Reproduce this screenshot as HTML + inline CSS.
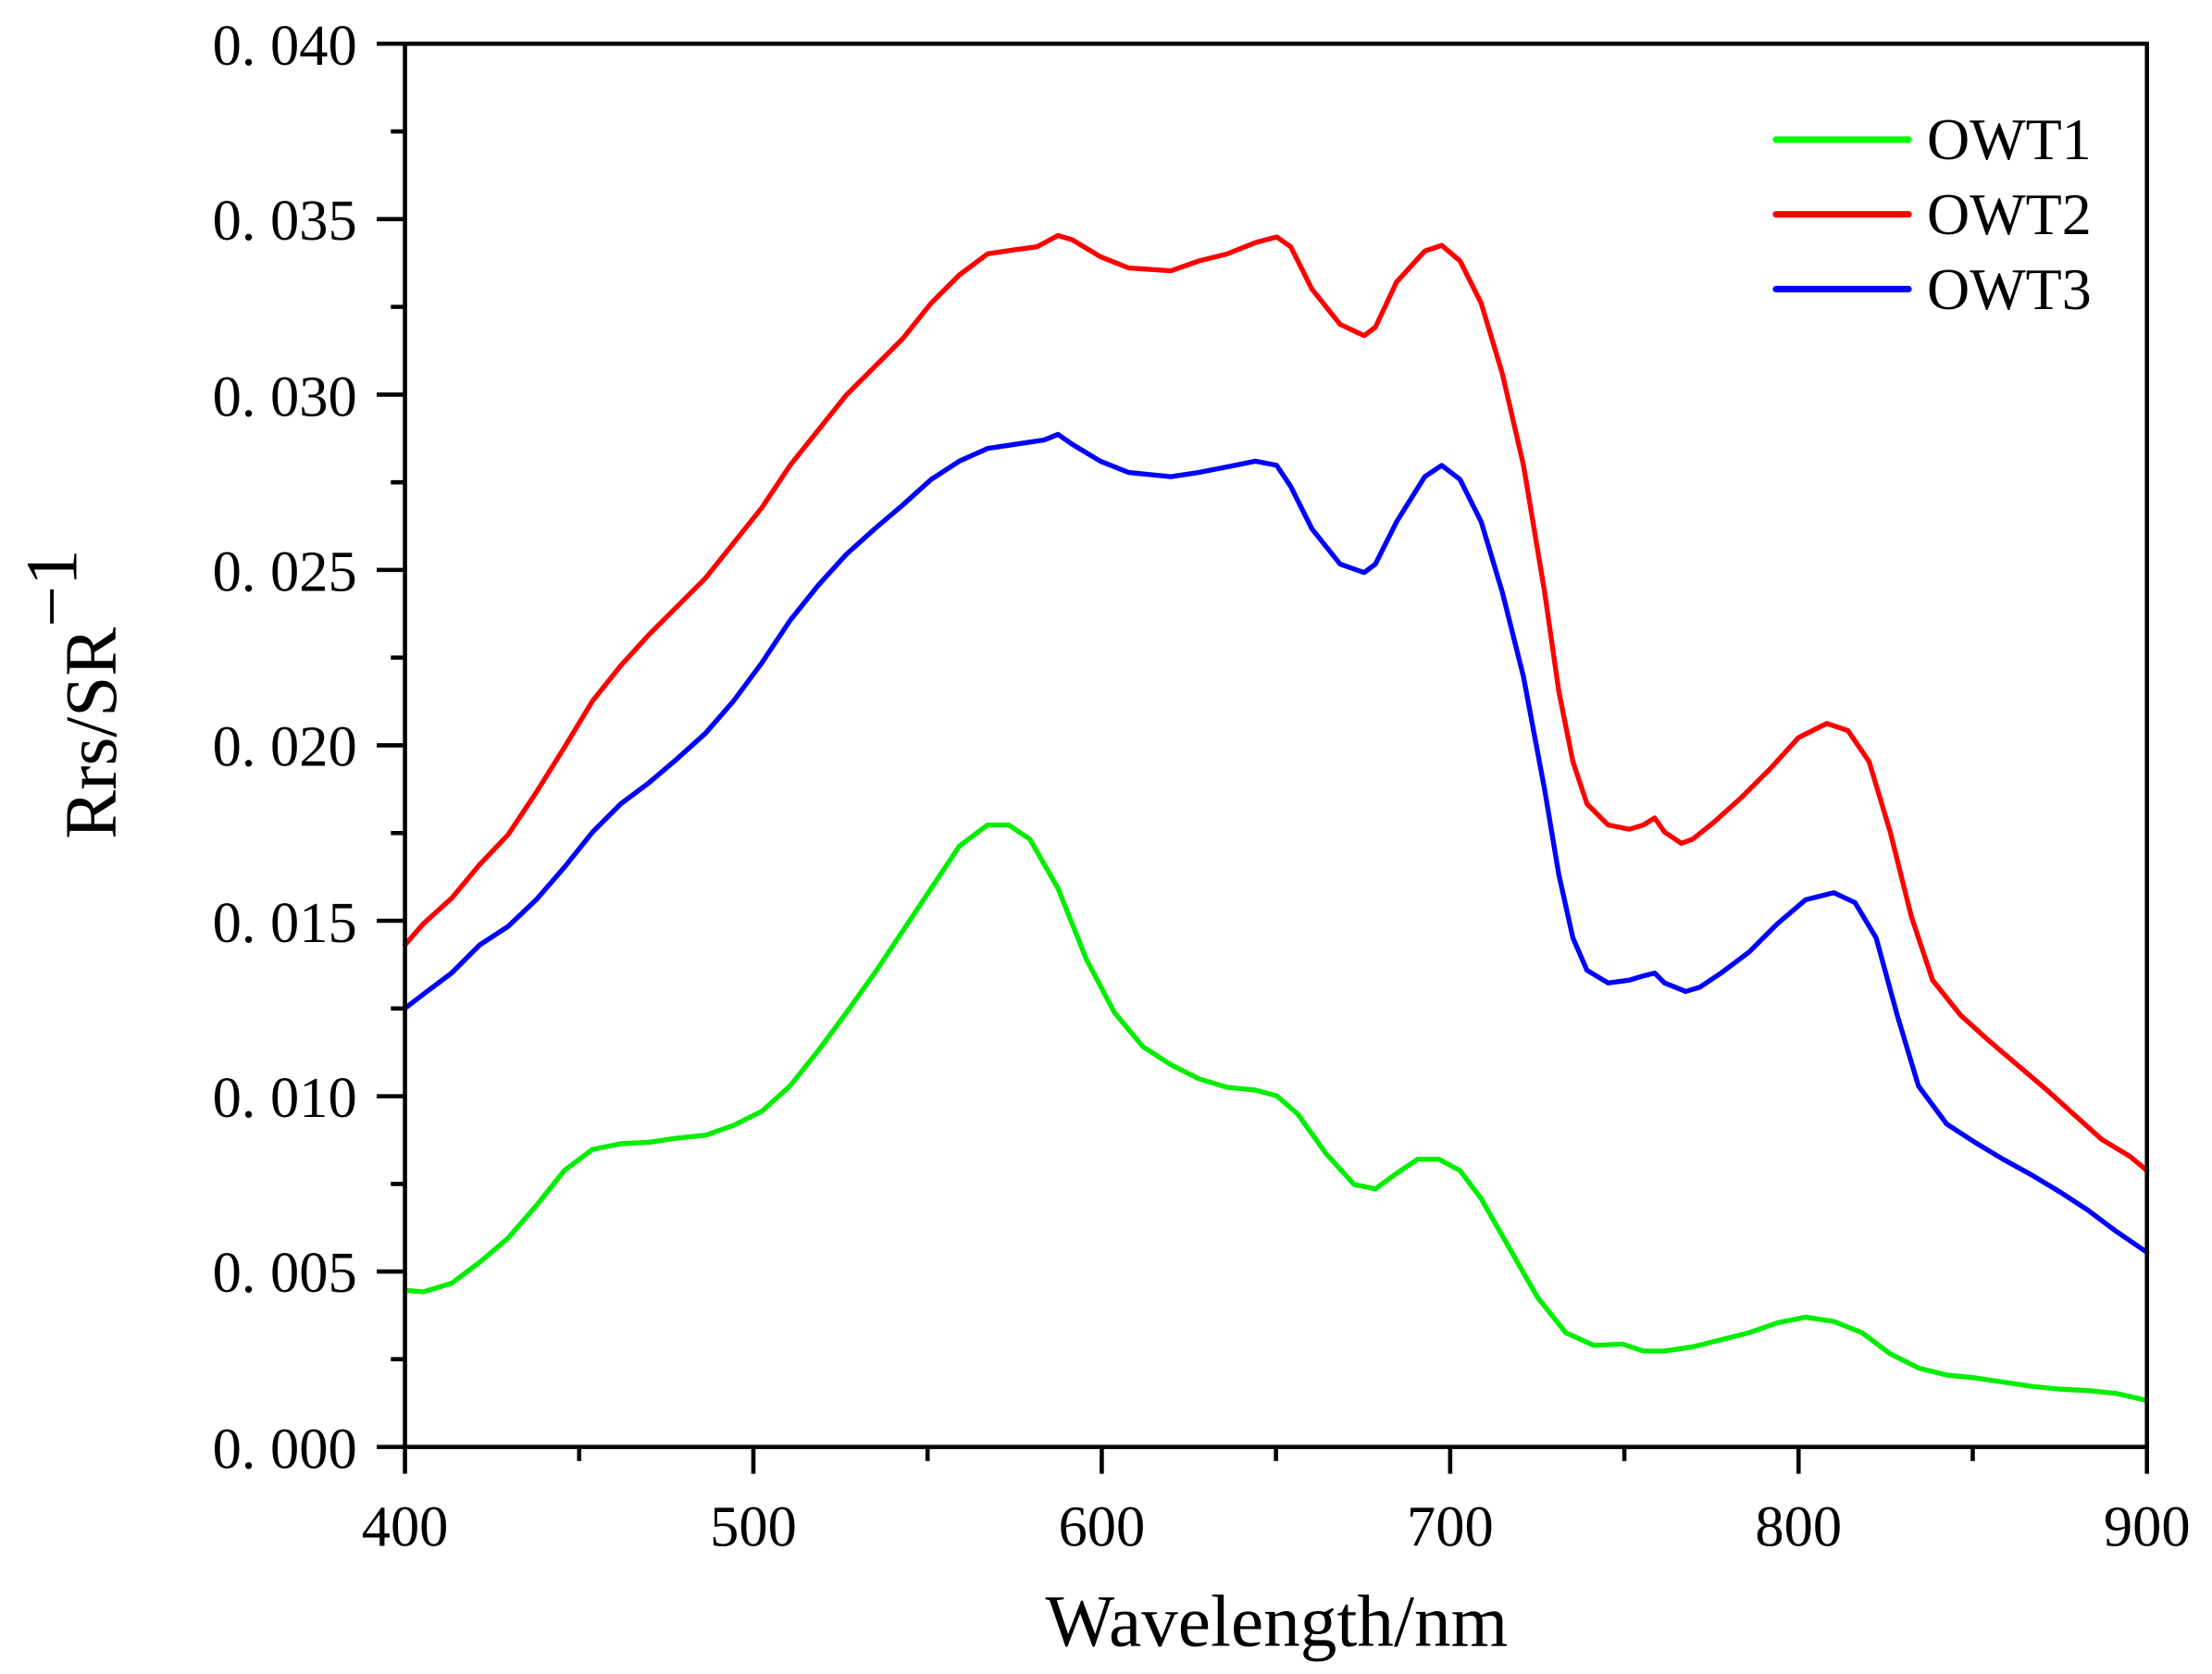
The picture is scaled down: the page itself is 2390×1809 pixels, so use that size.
<!DOCTYPE html>
<html><head><meta charset="utf-8"><style>html,body{margin:0;padding:0;background:#fff}svg{display:block}</style></head>
<body>
<svg width="2390" height="1809" viewBox="0 0 1568 1187" xmlns="http://www.w3.org/2000/svg" font-family="'Liberation Serif', serif">
<rect width="1568" height="1187" fill="#fff"/>
<g fill="none" stroke-linejoin="round" stroke-linecap="round" stroke-width="3.5">
<polyline stroke="#ff0000" points="287,670 300,655 320,637 340,613 360,592 380,562 400,530 420,497 440,472 460,450 480,430 500,410 520,385 540,360 560,330 580,305 600,280 620,260 640,240 660,215 680,195 700,180 720,177 735,175 750,167 760,170 780,182 800,190 830,192 850,185 870,180 890,172 905,168 915,175 930,205 950,230 967,238 975,232 990,200 1010,178 1022,174 1035,185 1050,215 1065,265 1080,330 1095,420 1105,490 1115,540 1125,570 1140,585 1155,588 1165,585 1173,580 1180,590 1192,598 1200,595 1215,583 1235,565 1255,545 1275,523 1295,513 1310,518 1325,540 1340,590 1355,650 1370,695 1390,720 1410,738 1430,755 1450,772 1470,790 1490,808 1510,820 1522,830"/>
<polyline stroke="#0000ff" points="287,715 300,705 320,690 340,670 360,657 380,638 400,615 420,590 440,570 460,555 480,538 500,520 520,497 540,470 560,440 580,415 600,393 620,375 640,358 660,340 680,327 700,318 720,315 740,312 750,308 760,315 780,327 800,335 830,338 850,335 870,331 890,327 905,330 915,345 930,375 950,400 967,406 975,400 990,370 1010,338 1022,330 1035,340 1050,370 1065,420 1080,480 1095,560 1105,620 1115,665 1125,688 1140,697 1155,695 1165,692 1173,690 1180,697 1195,703 1205,700 1220,690 1240,675 1260,655 1280,638 1300,633 1315,640 1330,665 1345,720 1360,770 1380,797 1400,810 1420,822 1440,833 1460,845 1480,858 1500,873 1522,888"/>
<polyline stroke="#00ee00" points="287,915 300,916 320,910 340,895 360,878 380,855 400,830 420,815 440,811 460,810 480,807 500,805 520,798 540,788 560,770 580,745 600,718 620,690 640,660 660,630 680,600 700,585 715,585 730,595 750,630 770,680 790,718 810,742 830,755 850,765 870,771 890,773 905,777 920,790 940,818 960,840 975,843 990,832 1005,822 1020,822 1035,830 1050,850 1070,885 1090,920 1110,945 1130,954 1150,953 1165,958 1180,958 1200,955 1220,950 1240,945 1260,938 1280,934 1300,937 1320,945 1340,960 1360,970 1380,975 1400,977 1420,980 1440,983 1460,985 1480,986 1500,988 1522,993"/>
</g>
<g stroke="#000" stroke-width="3" fill="none">
<rect x="287" y="31" width="1235" height="995"/>
<path d="M267,31H287M267,155.4H287M267,279.8H287M267,404.1H287M267,528.5H287M267,652.9H287M267,777.3H287M267,901.6H287M267,1026H287"/>
<path d="M277,93.2H287M277,217.6H287M277,342H287M277,466.3H287M277,590.7H287M277,715.1H287M277,839.5H287M277,963.8H287"/>
<path d="M287,1026V1045M534,1026V1045M781,1026V1045M1028,1026V1045M1275,1026V1045M1522,1026V1045"/>
<path d="M410.5,1026V1036M657.5,1026V1036M904.5,1026V1036M1151.5,1026V1036M1398.5,1026V1036"/>
</g>
<g font-size="41" text-anchor="end" fill="#000">
<text x="253" y="46">0. 040</text>
<text x="253" y="170">0. 035</text>
<text x="253" y="295">0. 030</text>
<text x="253" y="419">0. 025</text>
<text x="253" y="543">0. 020</text>
<text x="253" y="668">0. 015</text>
<text x="253" y="792">0. 010</text>
<text x="253" y="916">0. 005</text>
<text x="253" y="1041">0. 000</text>
</g>
<g font-size="41" text-anchor="middle" fill="#000">
<text x="287" y="1096">400</text><text x="534" y="1096">500</text><text x="781" y="1096">600</text>
<text x="1028" y="1096">700</text><text x="1275" y="1096">800</text><text x="1522" y="1096">900</text>
</g>
<text x="905" y="1167" font-size="52" text-anchor="middle">Wavelength/nm</text>
<text transform="translate(82,595) rotate(-90)" font-size="52">Rrs/SR<tspan dy="-28" font-size="52">−1</tspan></text>
<g stroke-width="4.6" stroke-linecap="round">
<line x1="1259" y1="99" x2="1353" y2="99" stroke="#00ff00"/>
<line x1="1259" y1="152" x2="1353" y2="152" stroke="#ff0000"/>
<line x1="1259" y1="205" x2="1353" y2="205" stroke="#0000ff"/>
</g>
<g font-size="42" fill="#000">
<text x="1366" y="113">OWT1</text><text x="1366" y="166">OWT2</text><text x="1366" y="219">OWT3</text>
</g>
</svg>
</body></html>
